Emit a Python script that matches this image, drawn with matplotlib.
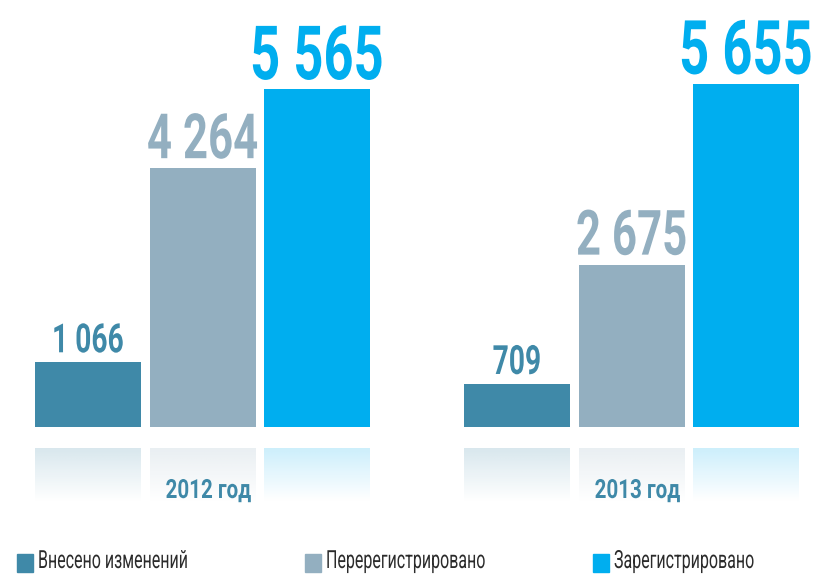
import numpy as np
import matplotlib
matplotlib.use("Agg")
import matplotlib.pyplot as plt
from matplotlib.patches import Rectangle
from matplotlib.colors import to_rgb
from matplotlib.patheffects import AbstractPathEffect
from matplotlib.transforms import Affine2D

plt.rcParams['font.family'] = ['Roboto', 'DejaVu Sans']

years = ['2012 год', '2013 год']
series = ['Внесено изменений', 'Перерегистрировано', 'Зарегистрировано']
values_2012 = [1066, 4264, 5565]
values_2013 = [709, 2675, 5655]
colors = ['#3f89a8', '#93afc0', '#00aeef']
label_sizes = [29, 45, 54]


class Tall(AbstractPathEffect):
    """Stretch glyphs upward from the baseline, giving a condensed look."""

    def __init__(self, sy):
        super().__init__()
        self.sy = sy

    def draw_path(self, renderer, gc, tpath, affine, rgbFace=None):
        renderer.draw_path(gc, tpath, Affine2D().scale(1, self.sy) + affine, rgbFace)


def squeezed_text(x, y, s, size, squeeze, transform=None, **kw):
    # font size sets the width, the effect restores the height
    target = ax if transform is None else fig
    return target.text(x, y, s, fontsize=size * squeeze, va='baseline',
                       path_effects=[Tall(1 / squeeze)], **kw)


W, H = 818, 574
k = 0.0607            # pixels per unit of value
base_px = 147         # baseline height above bottom edge, pixels

fig = plt.figure(figsize=(W / 100, H / 100), dpi=100)
ax = fig.add_axes([0, 0, 1, 1])
ax.set_xlim(0, W)
ax.set_ylim(-base_px / k, (H - base_px) / k)
ax.axis('off')

bar_w = 106
step = 114.5
group_gap = 429
x0 = 88

for g, vals in enumerate([values_2012, values_2013]):
    for s, v in enumerate(vals):
        xc = x0 + g * group_gap + s * step
        ax.bar(xc, v, width=bar_w, color=colors[s], zorder=2)
        label = f"{v:,}".replace(",", " ")
        squeezed_text(xc, v + 10 / k, label, label_sizes[s], 0.7,
                      ha='center', fontweight='bold', color=colors[s])
        # faded reflection under the bar
        r, gg, b = to_rgb(colors[s])
        img = np.zeros((64, 1, 4))
        img[..., 0] = r
        img[..., 1] = gg
        img[..., 2] = b
        img[..., 3] = np.linspace(0.2, 0.0, 64)[:, None]
        ax.imshow(img, extent=(xc - bar_w / 2, xc + bar_w / 2, -75 / k, -21 / k),
                  aspect='auto', interpolation='bilinear', zorder=1)
    squeezed_text(x0 + g * group_gap + step + 6, -71 / k, years[g], 19, 0.78,
                  ha='center', fontweight='bold', color=colors[0])

# legend along the bottom
leg_x = [17, 305, 593]
for s, name in enumerate(series):
    fig.add_artist(Rectangle((leg_x[s] / W, 2 / H), 16 / W, 18 / H,
                             transform=fig.transFigure, color=colors[s]))
    squeezed_text((leg_x[s] + 21) / W, 6 / H, name, 18, 0.64, transform='fig',
                  ha='left', color='#2b2b2b')

fig.savefig('out.png', dpi=100)
